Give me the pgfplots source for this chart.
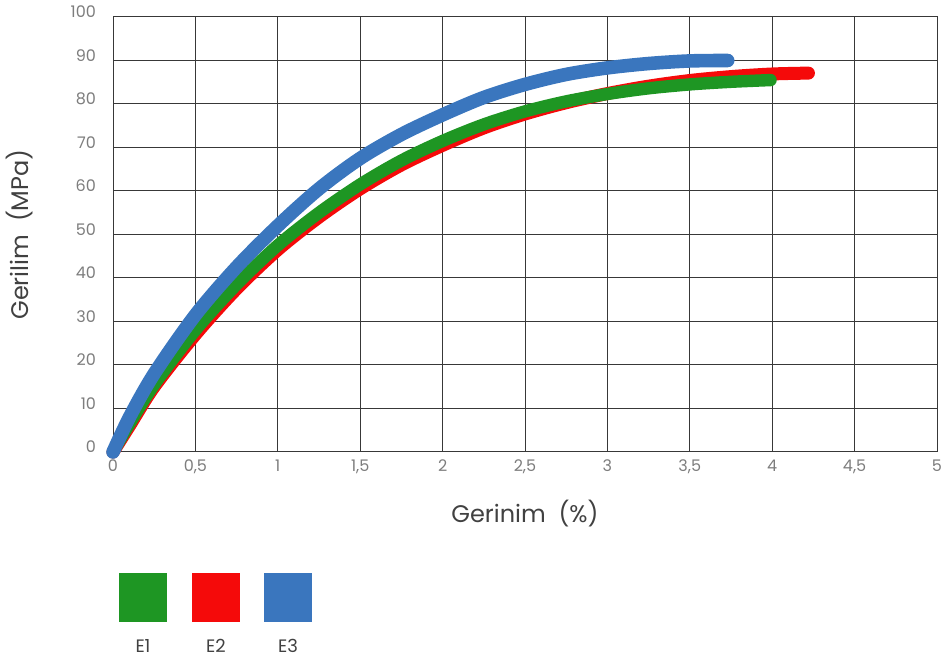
\documentclass[border=0pt]{standalone}
\usepackage{pgfplots}
\pgfplotsset{compat=1.18}
\usepackage{fontspec}
\setmainfont{Poppins}
\definecolor{cE1}{RGB}{30,150,35}
\definecolor{cE2}{RGB}{245,10,10}
\definecolor{cE3}{RGB}{58,118,190}
\definecolor{tickgray}{RGB}{125,125,125}
\definecolor{labgray}{RGB}{65,65,65}
\begin{document}
\begin{tikzpicture}
\useasboundingbox (-56.5pt,-108pt) rectangle (414pt,226pt);
\begin{axis}[name=ax, at={(0,0)}, anchor=south west,
  scale only axis, width=412pt, height=217.5pt,
  xmin=0, xmax=5, ymin=0, ymax=100,
  xtick={0,0.5,...,5}, ytick={0,10,...,100},
  grid=major, major grid style={draw=black!78, line width=0.5pt},
  axis line style={draw=black!78, line width=0.5pt},
  major tick length=0pt,
  /pgf/number format/assume math mode=true,
  /pgf/number format/use comma,
  ticklabel style={font=\fontsize{8}{9}\selectfont, text=tickgray},
  yticklabel style={xshift=-5pt, yshift=2.5pt},
  xticklabel style={yshift=-0.5pt},
  xlabel={Gerinim\ \ (\%)}, ylabel={Gerilim\ \ (MPa)},
  label style={font=\fontsize{12}{14}\selectfont, text=labgray},
  xlabel style={at={(axis description cs:0.5,0)}, anchor=center, yshift=-31pt},
  ylabel style={at={(axis description cs:0,0.5)}, anchor=center, xshift=0pt, yshift=46.5pt},
  clip=false,
]
\addplot[cE2, line width=6.5pt, line cap=round, smooth] coordinates {
(0,0) (0.1,6) (0.25,15) (0.5,27) (0.75,37.5) (1,46.5) (1.25,54) (1.5,60.5) (1.75,66) (2,70.5) (2.25,74.5) (2.5,77.7) (2.75,80.3) (3,82.4) (3.25,84.1) (3.5,85.4) (3.75,86.3) (4,86.9) (4.22,87.1)};
\addplot[cE1, line width=6.2pt, line cap=round, smooth] coordinates {
(0,0) (0.1,6.5) (0.25,15.5) (0.5,28) (0.75,38.5) (1,47.5) (1.25,55) (1.5,61.5) (1.75,67) (2,71.5) (2.25,75.3) (2.5,78.3) (2.75,80.6) (3,82.3) (3.25,83.6) (3.5,84.5) (3.75,85.1) (3.99,85.5)};
\addplot[cE3, line width=6.8pt, line cap=round, smooth] coordinates {
(0,0) (0.1,8) (0.25,18) (0.5,31.5) (0.75,42.5) (1,52) (1.25,60.5) (1.5,67.5) (1.75,73) (2,77.5) (2.25,81.5) (2.5,84.5) (2.75,86.8) (3,88.3) (3.25,89.3) (3.5,89.9) (3.73,90)};
\end{axis}
\fill[cE1] (3pt,-60.5pt) rectangle (27pt,-85pt);
\fill[cE2] (39.5pt,-60.5pt) rectangle (63.5pt,-85pt);
\fill[cE3] (75.5pt,-60.5pt) rectangle (99.5pt,-85pt);
\node[font=\fontsize{9}{10}\selectfont, text=labgray] at (15pt,-97pt) {E1};
\node[font=\fontsize{9}{10}\selectfont, text=labgray] at (51.5pt,-97pt) {E2};
\node[font=\fontsize{9}{10}\selectfont, text=labgray] at (87.5pt,-97pt) {E3};
\end{tikzpicture}
\end{document}
